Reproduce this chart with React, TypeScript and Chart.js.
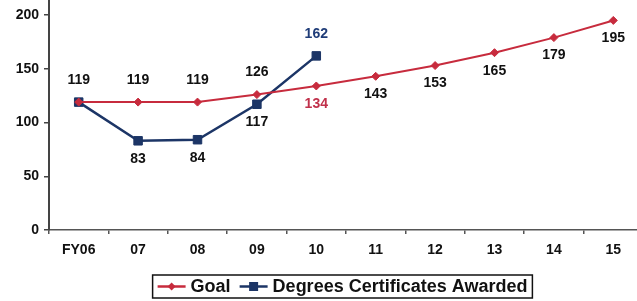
import React, { useEffect, useRef } from 'react';
import { Chart, registerables } from 'chart.js';

Chart.register(...registerables);

const categories = ['FY06', '07', '08', '09', '10', '11', '12', '13', '14', '15'];
const goalValues = [119, 119, 119, 126, 134, 143, 153, 165, 179, 195];
const degreesValues = [119, 83, 84, 117, 162, null, null, null, null, null];
const yTickValues = [0, 50, 100, 150, 200];

const GOAL = '#c72b3d';
const NAVY = '#1c3566';
const FONT = '"Liberation Sans", Arial, sans-serif';

// label placement config (style, not data)
const goalLabelSide = ['above', 'above', 'above', 'above', 'below', 'below', 'below', 'below', 'below', 'below'];
const goalLabelColor = ['#111', '#111', '#111', '#111', '#c0304a', '#111', '#111', '#111', '#111', '#111'];
const degLabelSide = ['none', 'below', 'below', 'below', 'above'];
const degLabelColor = ['#111', '#111', '#111', '#111', '#1f3c78'];

const labelPlugin = {
  id: 'pointValueLabels',
  afterDatasetsDraw(chart: any) {
    const ctx = chart.ctx;
    const cfgs = [
      { side: goalLabelSide, color: goalLabelColor },
      { side: degLabelSide, color: degLabelColor },
    ];
    chart.data.datasets.forEach((ds: any, di: number) => {
      const meta = chart.getDatasetMeta(di);
      const cfg = cfgs[di];
      meta.data.forEach((pt: any, i: number) => {
        const v = ds.data[i];
        if (v == null) return;
        const side = cfg.side[i];
        if (!side || side === 'none') return;
        ctx.save();
        ctx.font = `bold 14px ${FONT}`;
        ctx.fillStyle = cfg.color[i];
        ctx.textAlign = 'center';
        ctx.textBaseline = 'middle';
        ctx.fillText(String(v), pt.x, side === 'above' ? pt.y - 22 : pt.y + 18);
        ctx.restore();
      });
    });
  },
};

function drawMarker(ctx: CanvasRenderingContext2D, style: string, x: number, y: number, color: string) {
  ctx.fillStyle = color;
  ctx.beginPath();
  if (style === 'rectRot') {
    const r = 4;
    ctx.moveTo(x, y - r);
    ctx.lineTo(x + r, y);
    ctx.lineTo(x, y + r);
    ctx.lineTo(x - r, y);
    ctx.closePath();
  } else {
    const s = 4.5;
    ctx.rect(x - s, y - s, 2 * s, 2 * s);
  }
  ctx.fill();
}

const boxLegendPlugin = {
  id: 'boxLegend',
  afterDraw(chart: any, _args: any, opts: any) {
    const ctx = chart.ctx as CanvasRenderingContext2D;
    ctx.save();
    ctx.font = `bold 18px ${FONT}`;
    const markW = 28;
    const gapMT = 5;
    const gapItems = 9;
    const padX = 5;
    const items = chart.data.datasets.map((ds: any) => ({
      text: ds.label as string,
      w: ctx.measureText(ds.label).width,
      color: ds.borderColor as string,
      style: ds.pointStyle as string,
    }));
    const total =
      items.reduce((s: number, it: any) => s + markW + gapMT + it.w, 0) + gapItems * (items.length - 1) + padX * 2;
    const left = opts.centerX - total / 2;
    const top = opts.top;
    const h = opts.height;
    ctx.strokeStyle = '#111';
    ctx.lineWidth = 1.5;
    ctx.strokeRect(left, top, total, h);
    let x = left + padX;
    const cy = top + h / 2;
    items.forEach((it: any) => {
      ctx.strokeStyle = it.color;
      ctx.lineWidth = 2.5;
      ctx.beginPath();
      ctx.moveTo(x, cy);
      ctx.lineTo(x + markW, cy);
      ctx.stroke();
      drawMarker(ctx, it.style, x + markW / 2, cy, it.color);
      x += markW + gapMT;
      ctx.fillStyle = '#111';
      ctx.textAlign = 'left';
      ctx.textBaseline = 'middle';
      ctx.fillText(it.text, x, cy + 1);
      x += it.w + gapItems;
    });
    ctx.restore();
  },
};

export default function App() {
  const ref = useRef<HTMLCanvasElement | null>(null);

  useEffect(() => {
    if (!ref.current) return;
    Chart.defaults.font.family = FONT;
    const chart = new Chart(ref.current, {
      type: 'line',
      data: {
        labels: categories,
        datasets: [
          {
            label: 'Goal',
            data: goalValues,
            borderColor: GOAL,
            backgroundColor: GOAL,
            borderWidth: 2,
            pointStyle: 'rectRot',
            pointRadius: 4,
            pointBorderWidth: 1,
            pointBackgroundColor: GOAL,
            pointBorderColor: GOAL,
            tension: 0,
            clip: false,
          } as any,
          {
            label: 'Degrees Certificates Awarded',
            data: degreesValues,
            borderColor: NAVY,
            backgroundColor: NAVY,
            borderWidth: 2.5,
            pointStyle: 'rect',
            pointRadius: 6,
            pointBorderWidth: 1,
            pointBackgroundColor: NAVY,
            pointBorderColor: NAVY,
            tension: 0,
            clip: false,
          } as any,
        ],
      },
      options: {
        responsive: false,
        maintainAspectRatio: false,
        animation: false,
        layout: { autoPadding: false, padding: { left: 0, right: 2, top: 0, bottom: 42 } },
        plugins: {
          legend: { display: false },
          tooltip: { enabled: false },
          boxLegend: { centerX: 342.5, top: 275, height: 23 },
        } as any,
        scales: {
          x: {
            type: 'category',
            offset: true,
            grid: {
              display: true,
              offset: true,
              drawOnChartArea: false,
              drawTicks: true,
              tickLength: 4,
              color: '#555',
              lineWidth: 1.5,
            },
            border: { display: true, color: '#555', width: 1.5 },
            ticks: {
              color: '#111',
              font: { size: 14, weight: 'bold' },
              padding: 8,
              maxRotation: 0,
              autoSkip: false,
            },
            afterFit: (scale: any) => {
              scale.height = 29;
              scale.paddingLeft = 0;
              scale.paddingRight = 0;
            },
          },
          y: {
            type: 'linear',
            min: 0,
            max: 214,
            grid: {
              display: true,
              drawOnChartArea: false,
              drawTicks: true,
              tickLength: 5,
              color: '#444',
              lineWidth: 1.5,
            },
            border: { display: true, color: '#444', width: 2 },
            ticks: {
              color: '#111',
              font: { size: 14, weight: 'bold' },
              padding: 5,
              stepSize: 50,
            },
            afterBuildTicks: (scale: any) => {
              scale.ticks = yTickValues.map((v) => ({ value: v }));
            },
            afterFit: (scale: any) => {
              scale.width = 49;
              scale.paddingTop = 0;
              scale.paddingBottom = 0;
            },
          },
        },
      } as any,
      plugins: [labelPlugin, boxLegendPlugin],
    });
    return () => chart.destroy();
  }, []);

  return (
    <div
      style={{
        position: 'absolute',
        left: 0,
        top: 0,
        width: 637,
        height: 301,
        overflow: 'hidden',
        background: '#fff',
      }}
    >
      <canvas ref={ref} width={645} height={301} style={{ display: 'block' }} />
    </div>
  );
}
